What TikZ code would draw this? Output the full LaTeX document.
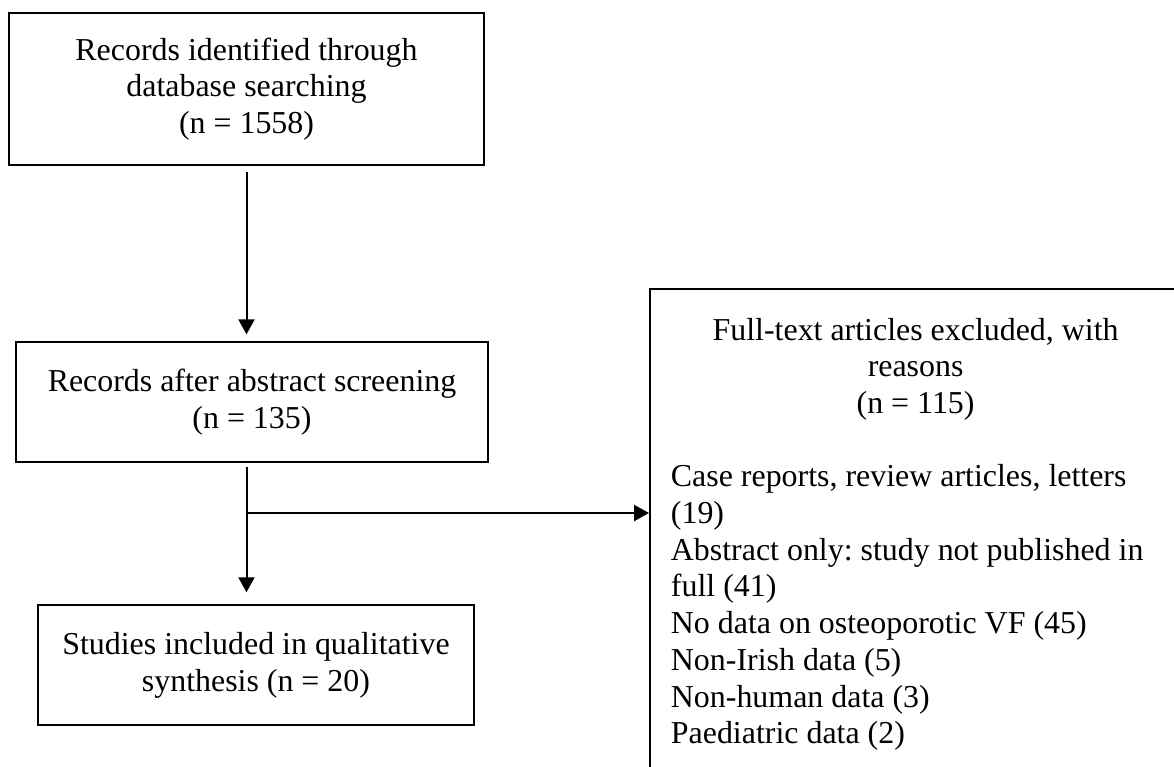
\documentclass[tikz,border=0pt]{standalone}
\usepackage{fontspec}
\setmainfont{Liberation Serif}
\usetikzlibrary{arrows.meta}
\begin{document}
\begin{tikzpicture}[x=0.376pt,y=-0.376pt,
  font=\fontsize{12}{13.8}\selectfont\frenchspacing,
  flowbox/.style={draw,line width=0.6pt,align=center,inner sep=0pt},
  exclbox/.style={draw,line width=0.7pt,align=flush left,text width=190pt,
    inner xsep=7.9pt,inner ysep=10.9pt},
  arr/.style={line width=0.75pt,-{Triangle[length=5.6pt,width=6pt]}}]
\useasboundingbox (0,0) rectangle (1174,766);
\node[flowbox,minimum width=178.6pt,minimum height=57.2pt] (ident) at (246.5,89)
  {Records identified through\\database searching\\(n = 1558)};
\node[flowbox,minimum width=177.5pt,minimum height=45.1pt] (screen) at (252,402)
  {Records after abstract screening\\(n = 135)};
\node[flowbox,minimum width=163.9pt,minimum height=45.1pt] (incl) at (256,665)
  {Studies included in qualitative\\synthesis (n = 20)};
\node[exclbox,anchor=north west] (excl) at (649,288)
  {\spaceskip=0pt\xspaceskip=0pt
   {\centering\advance\rightskip 6pt Full-text articles excluded, with\\reasons\\(n = 115)\par}
   \vspace{13.8pt}
   {\raggedright
   Case reports, review articles, letters\\(19)\\
   Abstract only: study not published in\\full (41)\\
   No data on osteoporotic VF (45)\\
   Non-Irish data (5)\\
   Non-human data (3)\\
   Paediatric data (2)\par}\vspace{6pt}};
\draw[arr,shorten <=2.3pt,shorten >=2.6pt] (ident.south) -- (ident.south |- screen.north);
\draw[arr,shorten <=1.5pt,shorten >=4.5pt] (ident.south |- screen.south) -- (ident.south |- incl.north);
\coordinate (split) at (248,513);
\draw[arr] (split) -- (split -| excl.west);
\end{tikzpicture}
\end{document}
